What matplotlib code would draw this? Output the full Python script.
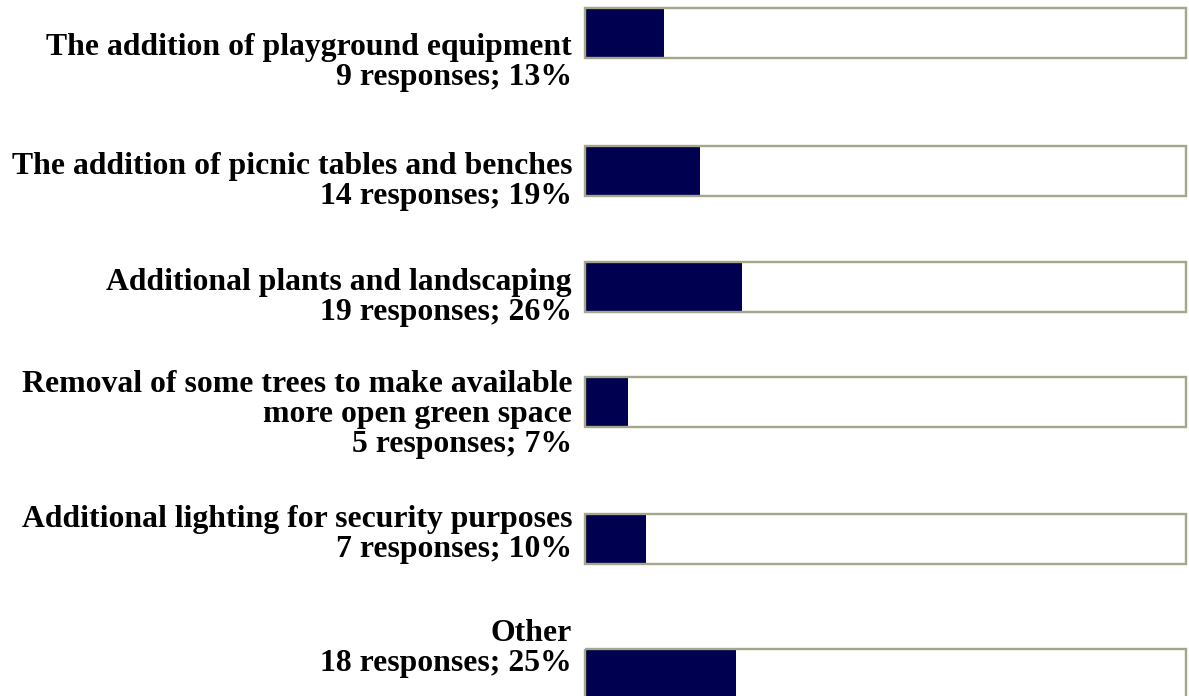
import matplotlib
matplotlib.use("Agg")
import matplotlib.pyplot as plt

# ---- data ----
categories = [
    ["The addition of playground equipment"],
    ["The addition of picnic tables and benches"],
    ["Additional plants and landscaping"],
    ["Removal of some trees to make available", "more open green space"],
    ["Additional lighting for security purposes"],
    ["Other"],
]
responses = [9, 14, 19, 5, 7, 18]
percents = [13, 19, 26, 7, 10, 25]

# ---- layout (pixels) ----
W, H = 1189, 696
box_tops = [7, 145, 261, 376, 513, 648]
first_baselines = [55, 174, 290, 392, 527, 641]
line_step = 30
box_h = 52
bar_left_px, bar_right_px = 586, 1185
text_right_px = 572

fig = plt.figure(figsize=(W / 100, H / 100), dpi=100)
fig.patch.set_facecolor("white")

# text layer in pixel coordinates
tax = fig.add_axes([0, 0, 1, 1])
tax.set_xlim(0, W)
tax.set_ylim(H, 0)
tax.axis("off")

# bar layer: x in percent, y in pixels
bax = fig.add_axes([bar_left_px / W, 0, (bar_right_px - bar_left_px) / W, 1])
bax.set_xlim(0, 100)
bax.set_ylim(H, 0)
bax.axis("off")

edge_col = "#a6a68a"
bar_col = "#000050"

for i, (cat, n, p) in enumerate(zip(categories, responses, percents)):
    top = box_tops[i]
    c = top + box_h / 2
    # white box background
    bax.barh(c, 100, height=box_h - 2, left=0, color="white", zorder=1)
    # value bar
    bax.barh(c, p, height=box_h - 4, left=0, color=bar_col, zorder=2)
    # box border
    bax.barh(c, 100 + 2 * 100 / 599, height=box_h - 2, left=-100 / 599,
             facecolor="none", edgecolor=edge_col, linewidth=1.7, zorder=3,
             clip_on=False)
    lines = list(cat) + [f"{n} responses; {p}%"]
    for j, ln in enumerate(lines):
        tax.text(text_right_px, first_baselines[i] + j * line_step, ln,
                 ha="right", va="baseline", fontsize=22.9,
                 fontweight="bold", family="Liberation Serif", color="black")

fig.savefig("out.png", dpi=100, facecolor="white")
